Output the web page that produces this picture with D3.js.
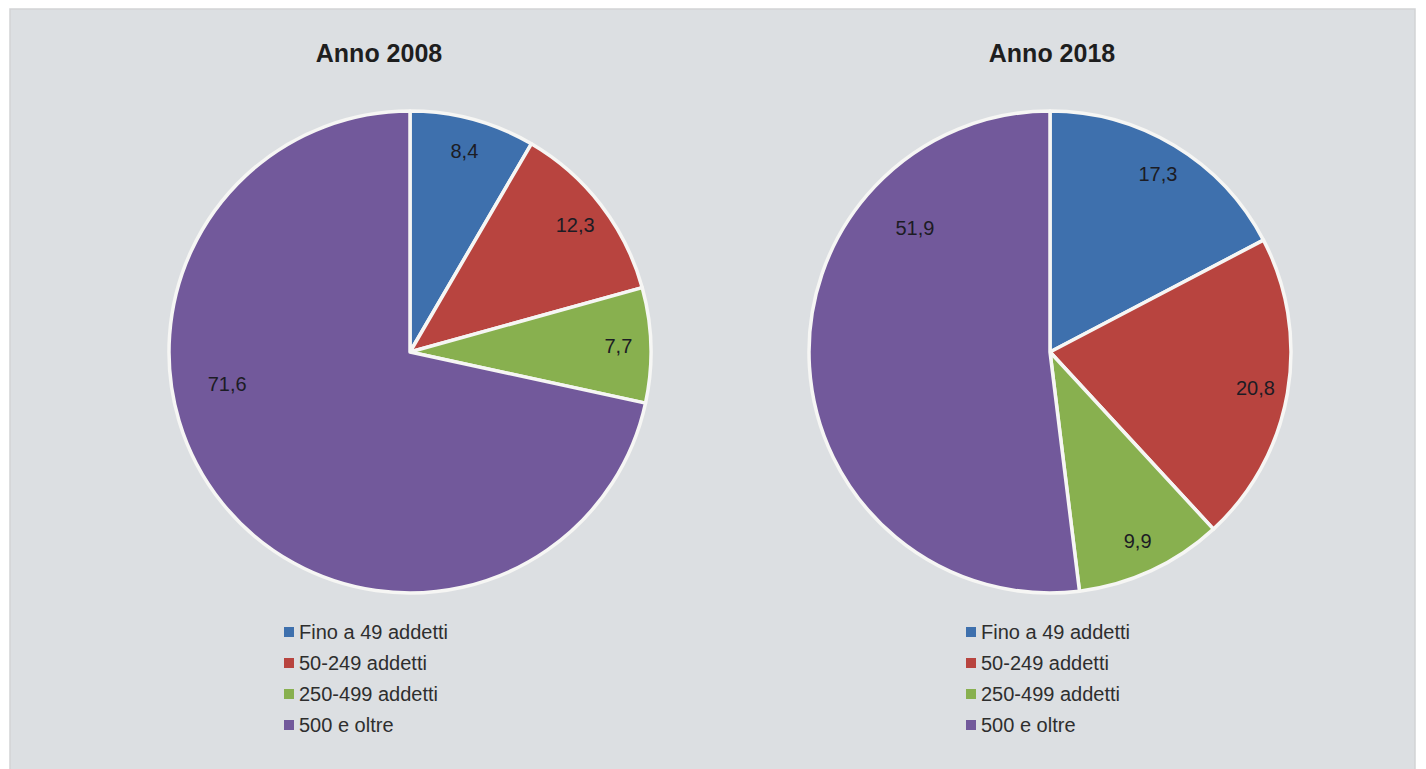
<!DOCTYPE html>
<html>
<head>
<meta charset="utf-8">
<script src="https://cdn.jsdelivr.net/npm/d3@7"></script>
<style>
  html, body { margin: 0; padding: 0; background: #ffffff; }
  svg { display: block; }
</style>
</head>
<body>
<svg id="chart" width="1426" height="769"></svg>
<script>
// ---- data ----
const categories = ["Fino a 49 addetti", "50-249 addetti", "250-499 addetti", "500 e oltre"];
const titles = ["Anno 2008", "Anno 2018"];
const values2008 = [8.4, 12.3, 7.7, 71.6];
const values2018 = [17.3, 20.8, 9.9, 51.9];
const colors = ["#3e70ad", "#b8443f", "#88b04f", "#72599b"];

// ---- layout ----
const W = 1426, H = 769;
const panels = [
  { values: values2008, title: titles[0], cx: 410, cy: 352, titleX: 379, legendX: 284, bigShift: 29, bigR: 0.77 },
  { values: values2018, title: titles[1], cx: 1050, cy: 352, titleX: 1052, legendX: 966, bigShift: 46, bigR: 0.76 }
];
const R = 241;

const svg = d3.select("#chart");
svg.append("rect").attr("x", 10).attr("y", 9).attr("width", 1405).attr("height", 772)
  .attr("fill", "#dcdfe2").attr("stroke", "#d2d3d5").attr("stroke-width", 1.5);

const color = d3.scaleOrdinal().domain(categories).range(colors);
const pie = d3.pie().sort(null).value(d => d.v);
const arc = d3.arc().innerRadius(0).outerRadius(R);
const fmt = v => d3.format(".1f")(v).replace(".", ",");

panels.forEach(p => {
  const data = categories.map((c, i) => ({ c, v: p.values[i] }));
  const arcs = pie(data);
  const maxV = d3.max(p.values);

  svg.append("text")
    .attr("x", p.titleX).attr("y", 62)
    .attr("text-anchor", "middle")
    .attr("font-family", "Liberation Sans, Arial, sans-serif")
    .attr("font-weight", "bold").attr("font-size", 25)
    .attr("fill", "#1e1e1e")
    .text(p.title);

  const g = svg.append("g").attr("transform", `translate(${p.cx},${p.cy})`);
  g.selectAll("path").data(arcs).join("path")
    .attr("d", arc)
    .attr("fill", d => color(d.data.c))
    .attr("stroke", "#f6f6f4").attr("stroke-width", 3.5)
    .attr("stroke-linejoin", "round");

  g.selectAll("text.lbl").data(arcs).join("text")
    .attr("class", "lbl")
    .attr("transform", d => {
      const big = d.data.v === maxV;
      let a = (d.startAngle + d.endAngle) / 2;
      if (big) a += p.bigShift * Math.PI / 180;
      const r = R * (big ? p.bigR : 0.865);
      return `translate(${r * Math.sin(a)},${-r * Math.cos(a)})`;
    })
    .attr("text-anchor", "middle").attr("dy", "0.35em")
    .attr("font-family", "Liberation Sans, Arial, sans-serif")
    .attr("font-size", 20).attr("fill", "#1c1c24")
    .text(d => fmt(d.data.v));

  const lg = svg.append("g").attr("transform", `translate(${p.legendX},632)`);
  const rows = lg.selectAll("g").data(categories).join("g")
    .attr("transform", (d, i) => `translate(0,${i * 31})`);
  rows.append("rect").attr("x", 0).attr("y", -5).attr("width", 10).attr("height", 10)
    .attr("fill", d => color(d));
  rows.append("text").attr("x", 15).attr("dy", "0.35em")
    .attr("font-family", "Liberation Sans, Arial, sans-serif")
    .attr("font-size", 20).attr("fill", "#2e2e2e")
    .text(d => d);
});
</script>
</body>
</html>
